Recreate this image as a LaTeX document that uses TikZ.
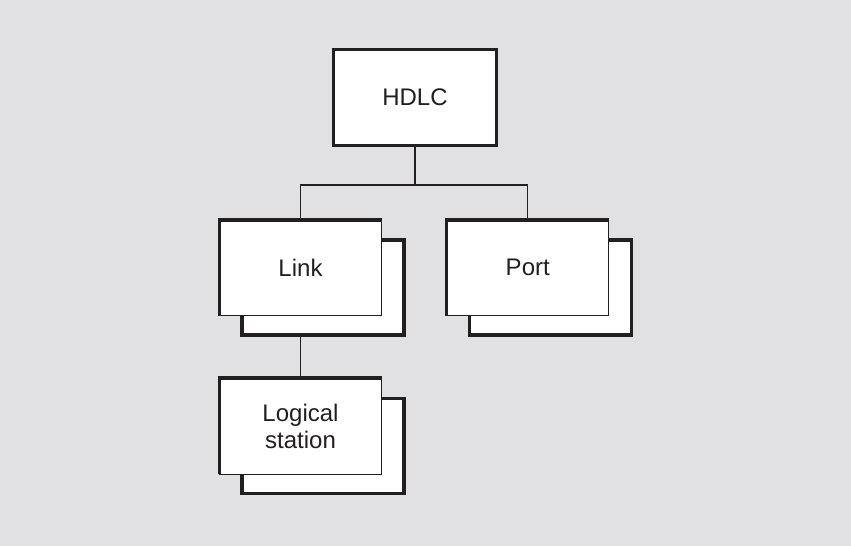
\documentclass[tikz,border=0pt]{standalone}
\usepackage{fontspec}
\setmainfont{Liberation Sans}
\usetikzlibrary{positioning}

\definecolor{paper}{HTML}{E1E1E3}
\definecolor{ink}{HTML}{231F20}

\begin{document}
\begin{tikzpicture}[
            x = 1pt, y = -1pt, % pixel grid of the picture
            font = \fontsize{24}{27}\selectfont,
            box/.style = {draw = ink, line width = 1.2pt, fill = white,
                inner sep = 0pt, outer sep = 0pt,
                minimum width = 162pt, minimum height = 95.5pt,
                align = center, text = ink},
            backbox/.style = {box, line width = 3.2pt, minimum height = 95pt},
            heavy/.style = {draw = ink, line width = 3.2pt},
            wire/.style = {draw = ink, line width = 1.1pt}
        ]

        % background
        \fill[paper] (0,0) rectangle (851,546);

        % top node
        \node[box, line width = 3.2pt, minimum width = 163pt, minimum height = 96pt] (hdlc) at (415,97.5) {HDLC};

        % second level (two sheets each)
        \node[backbox] (linkback) at (323,287.5) {};
        \node[box] (link) at (300.5,267.75) {Link};
        \node[backbox] (portback) at (550.25,287.5) {};
        \node[box] (port) at (527.75,267.75) {Port};

        % third level
        \node[backbox] (logicalback) at (323,445.75) {};
        \node[box, minimum height = 96.3pt] (logical) at (300.5,426.2) {Logical\\station};

        % heavy top and left edges of the front sheets
        \draw[heavy] (link.south west) |- (link.north east);
        \draw[heavy] (port.south west) |- (port.north east);
        \draw[heavy] (logical.south west) |- (logical.north east);

        % connectors
        \coordinate (fork) at (415,185);
        \draw[wire] (hdlc.south) -- (fork);
        \draw[wire] (fork) -| (link.north);
        \draw[wire] (fork) -| (port.north);
        \draw[wire] (link.south |- linkback.south) -- (logical.north);

        \useasboundingbox (0,0) rectangle (851,546);
    \end{tikzpicture}
\end{document}
